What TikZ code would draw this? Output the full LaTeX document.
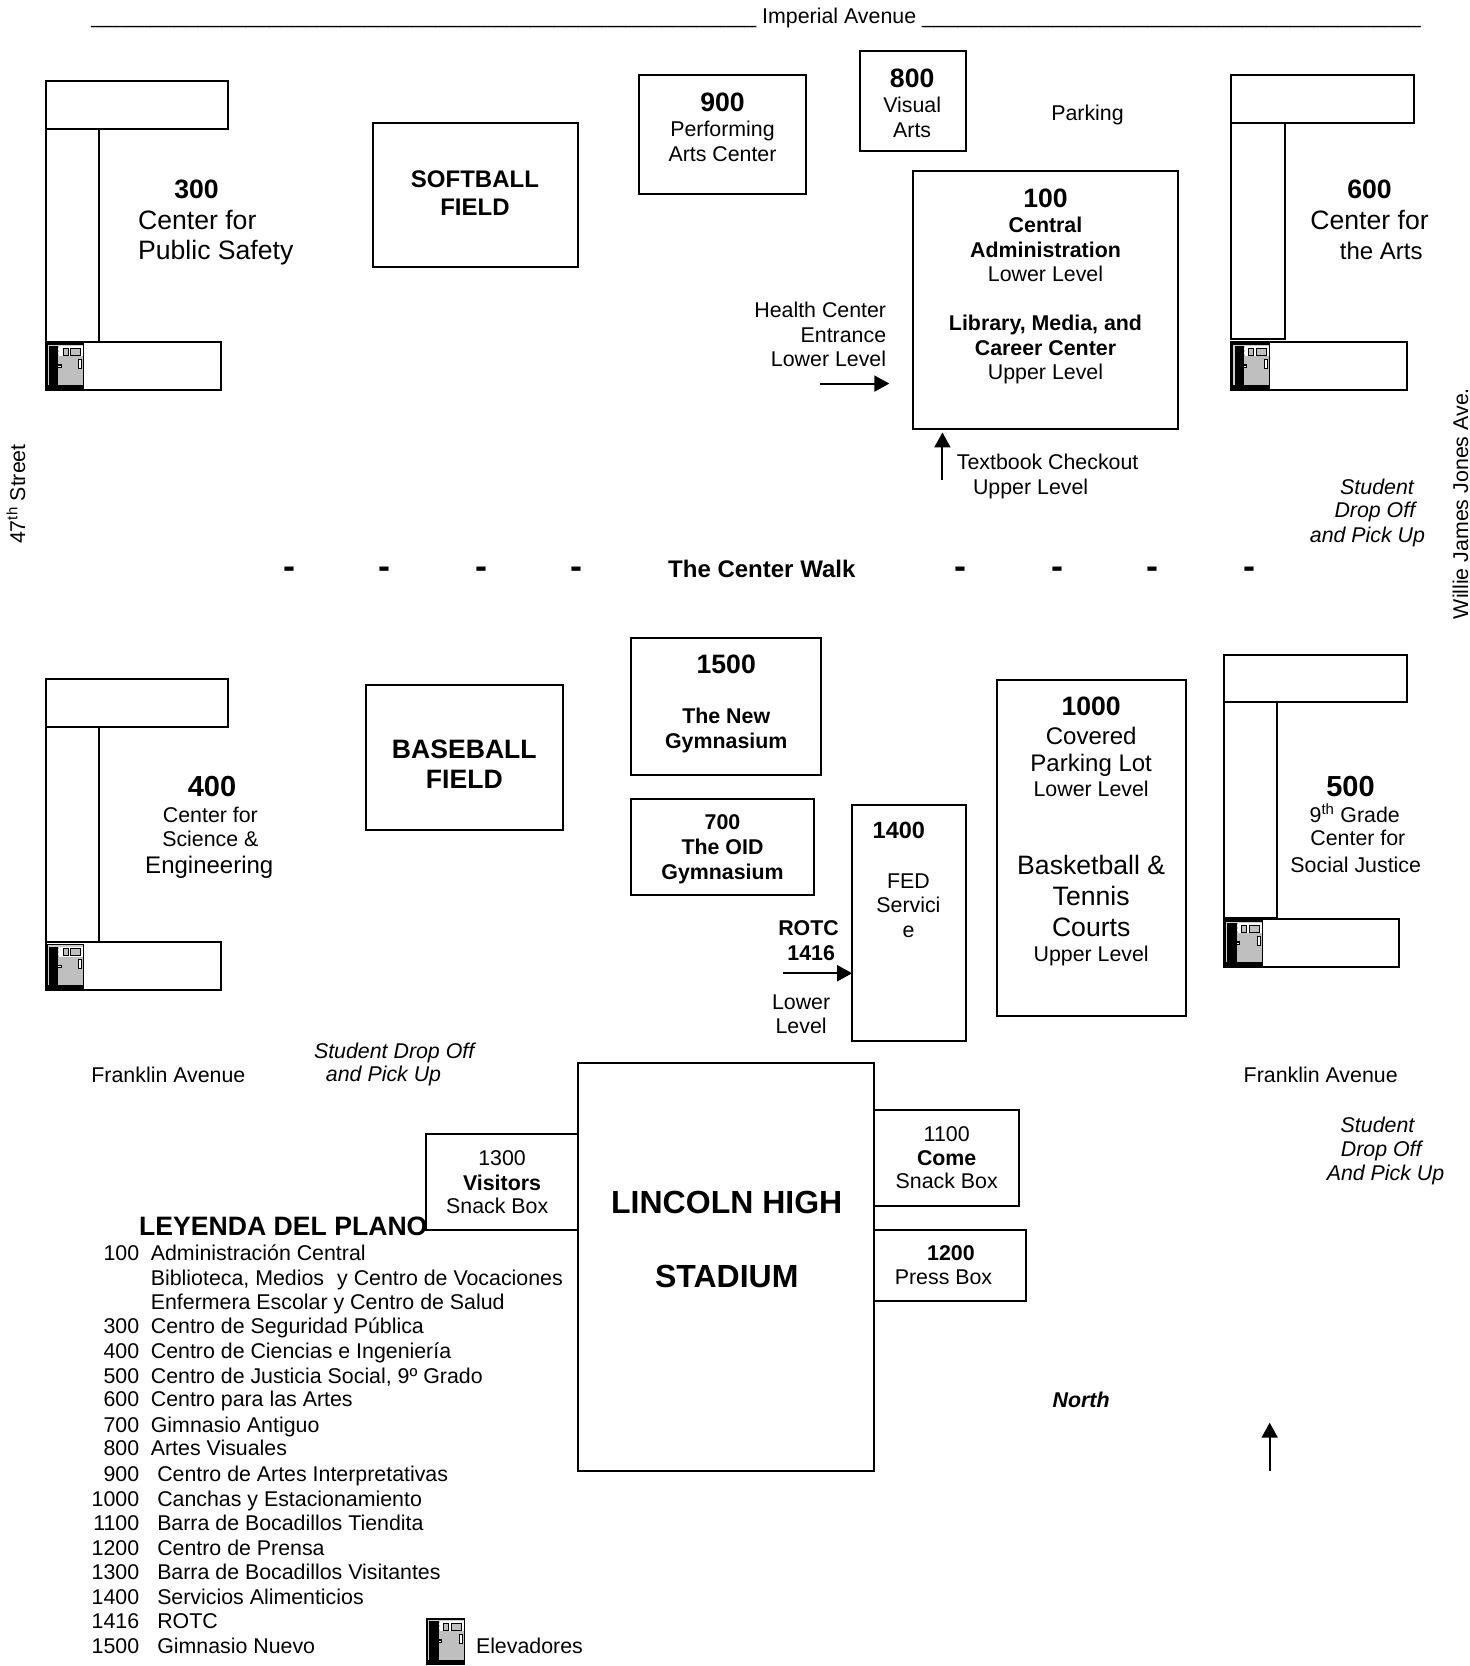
\documentclass[tikz,border=0pt]{standalone}
\usepackage{fontspec}
\setmainfont{Liberation Sans}
\usetikzlibrary{arrows.meta}
\newcounter{tn}
\newcommand\ff[1]{\fontsize{#1}{#1}\selectfont}
% anchor, font, x, y, text
\newcommand\TT[5]{\stepcounter{tn}\node[lab,anchor=#1,font=#2] (t\thetn) at (#3,#4) {#5};}
\newcommand\tC[3]{\TT{base}{\ff{21.35}}{#1}{#2}{#3}}
\newcommand\tB[3]{\TT{base}{\ff{21.35}\bfseries}{#1}{#2}{#3}}
\newcommand\tH[3]{\TT{base}{\ff{26.6}\bfseries}{#1}{#2}{#3}}
\newcommand\tM[3]{\TT{base}{\ff{24}}{#1}{#2}{#3}}
\newcommand\tI[3]{\TT{base}{\ff{21.35}\itshape}{#1}{#2}{#3}}
\newcommand\Lg[4]{\TT{base east}{\ff{21.35}}{131}{#1}{#2}\TT{base west}{\ff{21.35}}{#3}{#1}{#4}}
\newcommand\uu{\_\_\_\_\_\_\_}
\newcommand\Elev[2]{%
  \begin{scope}[shift={(#1,#2)}]
    \fill[black] (0,0) rectangle (36.5,44.5);
    \fill[elevlight] (1.8,1.8) rectangle (35.5,39);
    \fill[black] (3,3) rectangle (12,39);
    \fill[elevgray] (12,12.5) rectangle (35.5,39);
    \fill[white] (12,3) rectangle (35.5,12.5);
    \draw[elevgray,line width=.8pt,dash pattern=on 2pt off 2pt] (12.4,3) -- (12.4,39);
    \draw[black,line width=.9pt,fill=elevgray] (16.3,4.7) rectangle (21,11.6);
    \draw[black,line width=.9pt,fill=elevgray] (23.5,4.7) rectangle (33,11.6);
    \draw[black,line width=.9pt,fill=white] (31,15) rectangle (34,23.5);
    \fill[black] (12,20) rectangle (15,23.5);
    \fill[white] (12,21.2) rectangle (14,22.2);
  \end{scope}}
\definecolor{elevgray}{gray}{0.75}
\definecolor{elevlight}{gray}{0.8}
\tikzset{
  lab/.style={inner sep=0pt,outer sep=0pt,text=black},
  bld/.style={draw=black,line width=2pt,fill=white},
  arr/.style={draw=black,line width=1.9pt,-{Triangle[length=15pt,width=16pt]}},
}
\begin{document}
\begin{tikzpicture}[x=1.06219pt,y=-1.06219pt]
\useasboundingbox (0,0) rectangle (1383,1568);
\fill[white] (0,0) rectangle (1383,1568);
% L-shaped buildings
\draw[bld] (43,121) rectangle (93,322);
\draw[bld] (43,76) rectangle (215,121);
\draw[bld] (43,322) rectangle (208,367);
\draw[bld] (1159,116) rectangle (1209,319);
\draw[bld] (1159,71) rectangle (1331,116);
\draw[bld] (1159,322) rectangle (1324,367);
\draw[bld] (43,684) rectangle (93,887);
\draw[bld] (43,639) rectangle (215,684);
\draw[bld] (43,887) rectangle (208,932);
\draw[bld] (1152,661) rectangle (1202,864);
\draw[bld] (1152,616) rectangle (1324,661);
\draw[bld] (1152,865) rectangle (1317,910);
\Elev{43}{323}\Elev{1159}{323}\Elev{43}{888}\Elev{1152}{866}\Elev{401}{1523}
% simple buildings
\draw[bld] (351,116) rectangle (544,251);
\draw[bld] (601,71) rectangle (759,183);
\draw[bld] (809,48) rectangle (909,142);
\draw[bld] (859,161) rectangle (1109,404);
\draw[bld] (594,600) rectangle (773,729);
\draw[bld] (344,645) rectangle (530,781);
\draw[bld] (594,752) rectangle (766,842);
\draw[bld] (802,758) rectangle (909,980);
\draw[bld] (938,640) rectangle (1116,956);
\draw[bld] (401,1067) rectangle (544,1158);
\draw[bld] (823,1045) rectangle (959,1135);
\draw[bld] (823,1158) rectangle (966,1224);
\draw[bld] (544,1000) rectangle (823,1384);
% arrows
\coordinate (a1s) at (772,361); \coordinate (a1e) at (837,361);
\coordinate (a2s) at (887,452); \coordinate (a2e) at (887,407);
\coordinate (a3s) at (737,916); \coordinate (a3e) at (802,916);
\coordinate (a4s) at (1195,1384); \coordinate (a4e) at (1195,1339);
\draw[arr] (a1s) -- (a1e);
\draw[arr] (a2s) -- (a2e);
\draw[arr] (a3s) -- (a3e);
\draw[arr] (a4s) -- (a4e);
% streets
\TT{base west}{\ff{21.35}}{86}{22}{\uu\uu\uu\uu\uu\uu\uu\uu\ Imperial Avenue \uu\uu\uu\uu\uu\uu}
\node[lab,font=\ff{21.35},rotate=90,anchor=center] (st47) at (15,465) {47\textsuperscript{th} Street};
\node[lab,font=\ff{21.35},rotate=90,anchor=center] (stwj) at (1374.5,474) {Willie James Jones Ave.};
\tC{158.5}{1019}{Franklin Avenue}
\tC{1243}{1019}{Franklin Avenue}
\tC{1023.5}{113}{Parking}
% 300
\tH{185}{187}{300}
\TT{base west}{\ff{26.6}}{130}{216}{Center for}
\TT{base west}{\ff{26.6}}{130}{244}{Public Safety}
% softball
\TT{base}{\ff{24}\bfseries}{447}{176}{SOFTBALL}
\TT{base}{\ff{24}\bfseries}{447}{203}{FIELD}
% 900
\tH{680}{105}{900}\tC{680}{128}{Performing}\tC{680}{152}{Arts Center}
% 800
\tH{858.5}{82}{800}\tC{858.5}{106}{Visual}\tC{858.5}{129}{Arts}
% 100
\tH{984}{195}{100}
\tB{984}{219}{Central}\tB{984}{242}{Administration}\tC{984}{265}{Lower Level}
\tB{984}{311}{Library, Media, and}\tB{984}{335}{Career Center}\tC{984}{357}{Upper Level}
% 600
\tH{1289}{187}{600}\TT{base}{\ff{26.6}}{1289}{216}{Center for}\TT{base}{\ff{24}}{1300}{244}{the Arts}
% notes
\TT{base east}{\ff{21.35}}{834}{299}{Health Center}
\TT{base east}{\ff{21.35}}{834}{322}{Entrance}
\TT{base east}{\ff{21.35}}{834}{345}{Lower Level}
\tC{986}{442}{Textbook Checkout}\tC{970}{465}{Upper Level}
\tI{1296}{465}{Student}\tI{1294}{487}{Drop Off}\tI{1287}{511}{and Pick Up}
% center walk
\foreach \xx in {272,362,453,543,904,995,1085,1176}{\TT{base}{\ff{36}\bfseries}{\xx}{544}{-}}
\TT{base}{\ff{24}\bfseries}{717}{543.5}{The Center Walk}
% 1500
\tH{683.5}{634}{1500}\tB{683.5}{681}{The New}\tB{683.5}{704}{Gymnasium}
% baseball
\TT{base}{\ff{26.6}\bfseries}{437}{714}{BASEBALL}
\TT{base}{\ff{26.6}\bfseries}{437}{742}{FIELD}
% 700
\tB{680}{781}{700}\tB{680}{804}{The OID}\tB{680}{828}{Gymnasium}
% 1400
\TT{base}{\ff{23.5}\bfseries}{846}{789}{1400}
\tC{855}{836}{FED}\tC{855}{859}{Servici}\tC{855}{882}{e}
\tB{761}{880}{ROTC}\tB{763.5}{904}{1416}\tC{754}{950}{Lower}\tC{754}{973}{Level}
% 1000
\tH{1027}{673}{1000}\tM{1027}{700.5}{Covered}\tM{1027}{726}{Parking Lot}\tC{1027}{750}{Lower Level}
\TT{base}{\ff{26.6}}{1027}{823}{Basketball \&}
\TT{base}{\ff{26.6}}{1027}{852}{Tennis}
\TT{base}{\ff{26.6}}{1027}{881}{Courts}
\tC{1027}{905}{Upper Level}
% 500
\TT{base}{\ff{29}\bfseries}{1271}{750}{500}
\tC{1275}{774}{9\textsuperscript{th} Grade}\tC{1278}{796}{Center for}\tC{1276}{821}{Social Justice}
% 400
\TT{base}{\ff{29}\bfseries}{199.5}{750}{400}
\tC{198}{774}{Center for}\tC{198}{797}{Science \&}\tM{197}{822.5}{Engineering}
% south
\tI{371}{996}{Student Drop Off}\tI{361}{1018}{and Pick Up}
\tC{472.5}{1097}{1300}\tB{472.5}{1120}{Visitors}\tC{468}{1142}{Snack Box}
\tC{891}{1074}{1100}\tB{891}{1097}{Come}\tC{891}{1119}{Snack Box}
\tB{895}{1186}{1200}\tC{888}{1209}{Press Box}
\TT{base}{\ff{32}\bfseries}{684}{1142}{LINCOLN HIGH}
\TT{base}{\ff{32}\bfseries}{684}{1212}{STADIUM}
\tI{1296.5}{1066}{Student}\tI{1300}{1088}{Drop Off}\tI{1304}{1111}{And Pick Up}
\TT{base}{\ff{21.35}\bfseries\itshape}{1017.5}{1325}{North}
% legend
\TT{base west}{\ff{26.6}\bfseries}{131}{1163}{LEYENDA DEL PLANO}
\Lg{1186}{100}{142}{Administración Central}
\TT{base west}{\ff{21.35}}{142}{1210}{Biblioteca, Medios \,\,y Centro de Vocaciones}
\TT{base west}{\ff{21.35}}{142}{1232}{Enfermera Escolar y Centro de Salud}
\Lg{1255}{300}{142}{Centro de Seguridad Pública}
\Lg{1279}{400}{142}{Centro de Ciencias e Ingeniería}
\Lg{1302}{500}{142}{Centro de Justicia Social, 9º Grado}
\Lg{1324}{600}{142}{Centro para las Artes}
\Lg{1348}{700}{142}{Gimnasio Antiguo}
\Lg{1370}{800}{142}{Artes Visuales}
\Lg{1394}{900}{148}{Centro de Artes Interpretativas}
\Lg{1418}{1000}{148}{Canchas y Estacionamiento}
\Lg{1440}{1100}{148}{Barra de Bocadillos Tiendita}
\Lg{1464}{1200}{148}{Centro de Prensa}
\Lg{1487}{1300}{148}{Barra de Bocadillos Visitantes}
\Lg{1510}{1400}{148}{Servicios Alimenticios}
\Lg{1532.5}{1416}{148}{ROTC}
\Lg{1556}{1500}{148}{Gimnasio Nuevo}
\TT{base west}{\ff{21.35}}{448}{1556}{Elevadores}
\end{tikzpicture}
\end{document}
